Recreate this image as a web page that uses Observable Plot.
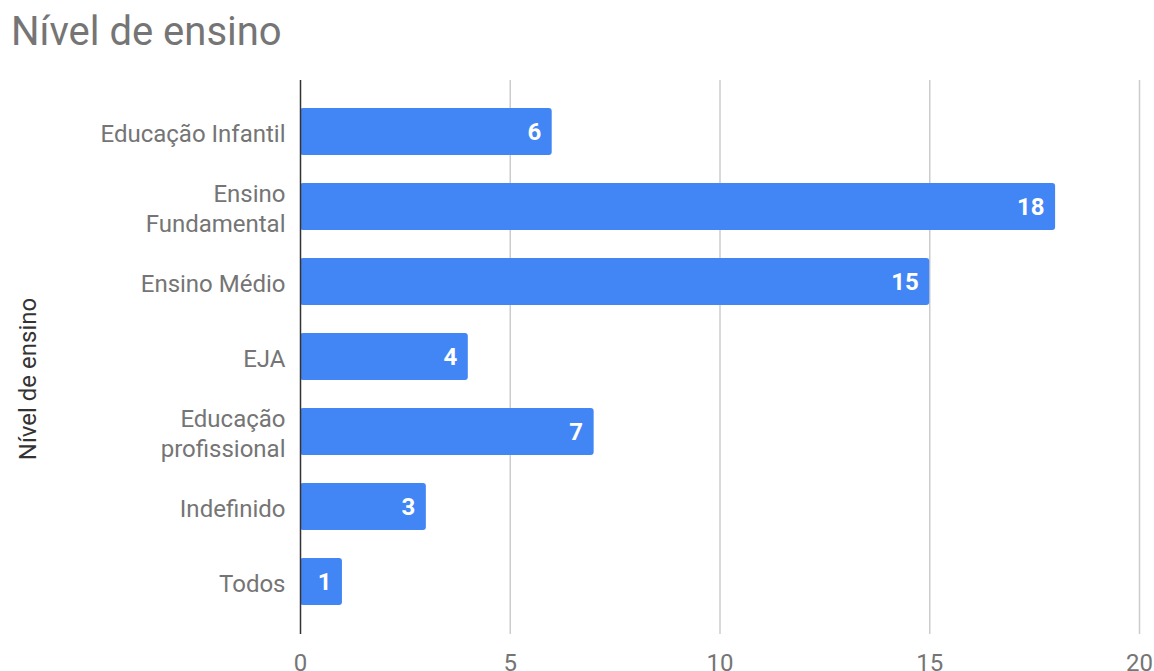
<!DOCTYPE html>
<html>
<head>
<meta charset="utf-8">
<script src="https://cdn.jsdelivr.net/npm/d3@7"></script>
<script src="https://cdn.jsdelivr.net/npm/@observablehq/plot@0.6"></script>
<style>
  body { margin: 0; background: #fff; font-family: Roboto, sans-serif; position: relative; }
  #title { margin: 0; padding: 4px 0 0 11px; height: 56px; line-height: 56px; font-size: 40px; color: #757575; font-weight: 400; white-space: nowrap; }
  #ylabel { position: absolute; left: 28px; top: 379px; transform: translate(-50%, -50%) rotate(-90deg); font-size: 24px; color: #333333; white-space: nowrap; }
  svg { overflow: visible; }
</style>
</head>
<body>
<div id="title">Nível de ensino</div>
<div id="chart"></div>
<script>
const categories = ["Educação Infantil", "Ensino\nFundamental", "Ensino Médio", "EJA", "Educação\nprofissional", "Indefinido", "Todos"];
const values = [6, 18, 15, 4, 7, 3, 1];
const xTicks = [0, 5, 10, 15, 20];
const yLabel = "Nível de ensino";

const data = categories.map((c, i) => ({category: c, value: values[i]}));

const chart = Plot.plot({
  width: 1154,
  height: 611,
  marginTop: 20,
  marginBottom: 37,
  marginLeft: 300,
  marginRight: 15,
  style: {fontFamily: "Roboto, sans-serif", fontSize: "24px", color: "#757575", overflow: "visible"},
  x: {domain: [0, 20], ticks: xTicks},
  y: {domain: categories, paddingInner: 0.371, paddingOuter: 0.354},
  marks: [
    Plot.ruleX(xTicks.filter(d => d > 0), {stroke: "#cccccc", strokeWidth: 1.5}),
    Plot.barX(data, {y: "category", x: "value", fill: "#4285F4", rx: 3}),
    Plot.ruleX([0], {stroke: "#333333", strokeWidth: 1.5}),
    Plot.text(data, {y: "category", x: "value", text: d => String(d.value), textAnchor: "end", dx: -11, fill: "white", fontWeight: "bold", fontSize: 24}),
    Plot.axisX({ticks: xTicks, tickSize: 0, tickPadding: 19, label: null, fill: "#757575"}),
    Plot.axisY({tickSize: 0, tickPadding: 15, label: null, lineHeight: 1.25, fill: "#757575"})
  ]
});
document.getElementById("chart").appendChild(chart);

const yl = document.createElement("div");
yl.id = "ylabel";
yl.textContent = yLabel;
document.body.appendChild(yl);
</script>
</body>
</html>
